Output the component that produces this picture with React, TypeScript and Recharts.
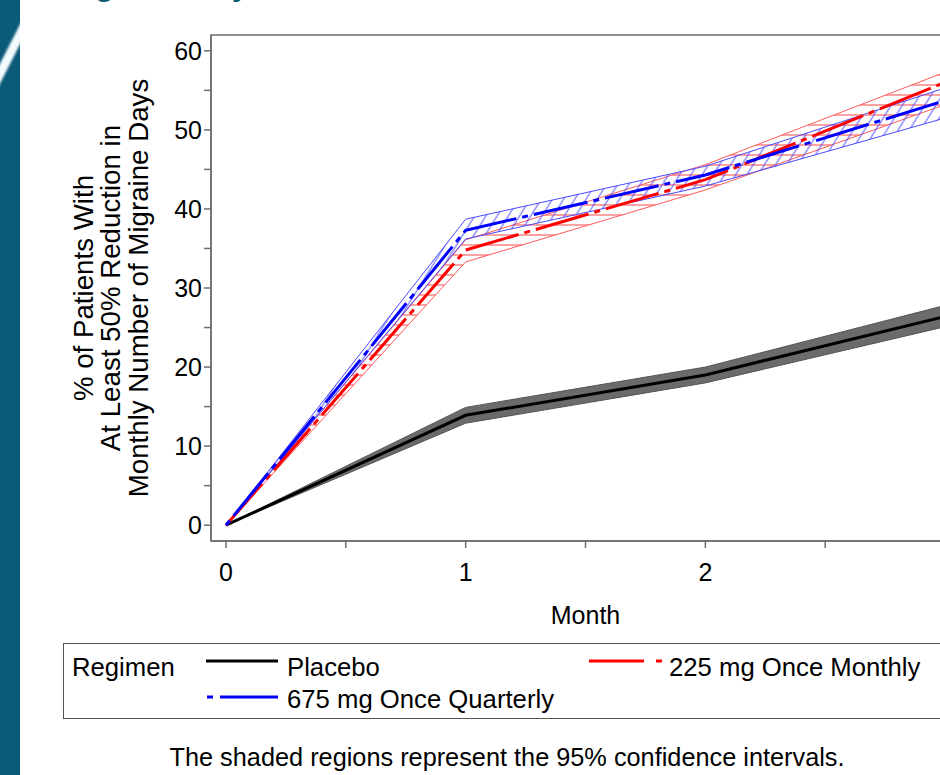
import React from "react";
import {
  ComposedChart,
  Area,
  Line,
  XAxis,
  YAxis,
  ReferenceArea,
} from "recharts";

// months on the x axis (month 3 sits just past the right edge of the slide crop)
const months = [0, 1, 2, 3];

// % of patients with >= 50% reduction
const placebo = [0, 13.9, 19.0, 26.4];
const placeboLow = [0, 12.9, 18.0, 25.1];
const placeboHigh = [0, 14.9, 20.0, 27.8];

const monthly225 = [0, 34.8, 43.7, 56.0];
const monthly225Low = [0, 33.3, 42.4, 53.2];
const monthly225High = [0, 36.1, 45.6, 57.3];

const quarterly675 = [0, 37.3, 44.3, 53.7];
const quarterly675Low = [0, 36.2, 42.9, 51.5];
const quarterly675High = [0, 38.7, 45.4, 55.3];

const xTicks = [0, 0.5, 1, 1.5, 2, 2.5, 3];
const xLabels = [0, 1, 2]; // month 3 label falls outside the crop
const yTicks = [0, 5, 10, 15, 20, 25, 30, 35, 40, 45, 50, 55, 60];

const rows = months.map((m, i) => ({
  month: m,
  placebo: placebo[i],
  placeboCI: [placeboLow[i], placeboHigh[i]],
  m225: monthly225[i],
  m225CI: [monthly225Low[i], monthly225High[i]],
  q675: quarterly675[i],
  q675CI: [quarterly675Low[i], quarterly675High[i]],
}));

const FONT = "'Liberation Sans', Arial, sans-serif";
const AXIS = "#6e6e6e";
const TEAL = "#0b5a78";

const YLabel = (props: any) => {
  const vb = props.viewBox || {};
  const cy = vb.height ? vb.y + vb.height / 2 : 288;
  const lines = [
    { x: 83, t: "% of Patients With" },
    { x: 110, t: "At Least 50% Reduction in" },
    { x: 138, t: "Monthly Number of Migraine Days" },
  ];
  return (
    <g>
      {lines.map((l) => (
        <text
          key={l.t}
          x={l.x}
          y={cy}
          transform={`rotate(-90 ${l.x} ${cy})`}
          textAnchor="middle"
          dominantBaseline="central"
          fontSize={27.7}
          fontFamily={FONT}
          fill="#000"
        >
          {l.t}
        </text>
      ))}
    </g>
  );
};

export default function App() {
  return (
    <div
      style={{
        position: "absolute",
        left: 0,
        top: 0,
        width: 940,
        height: 775,
        overflow: "hidden",
        background: "#fff",
        fontFamily: FONT,
      }}
    >
      {/* slide decoration: teal band on the left */}
      <div
        style={{
          position: "absolute",
          left: 0,
          top: 0,
          width: 20,
          height: 775,
          background: TEAL,
          overflow: "hidden",
        }}
      >
        <div
          style={{
            position: "absolute",
            left: 6,
            top: 8,
            width: 9,
            height: 90,
            background: "#f4fbff",
            transform: "rotate(27deg)",
            filter: "blur(1px)",
          }}
        />
      </div>

      {/* slide title, cut off by the crop: only descenders peek in */}
      <div
        style={{
          position: "absolute",
          left: 62,
          top: -28.7,
          lineHeight: "30px",
          fontSize: 30,
          fontWeight: 700,
          color: TEAL,
          whiteSpace: "nowrap",
        }}
      >
        Migraine Days
      </div>

      <div style={{ position: "absolute", left: 0, top: 0 }}>
        <ComposedChart
          width={1000}
          height={775}
          data={rows}
          margin={{ top: 35, right: 40, bottom: 144, left: 0 }}
        >
          <defs>
            <pattern id="redHatch" patternUnits="userSpaceOnUse" width="10" height="10">
              <line x1="0" y1="5" x2="10" y2="5" stroke="#ff3030" strokeWidth="1" strokeOpacity="0.9" />
            </pattern>
            <pattern
              id="blueHatch"
              patternUnits="userSpaceOnUse"
              width="9.5"
              height="10"
              patternTransform="rotate(32)"
            >
              <line x1="4" y1="0" x2="4" y2="10" stroke="#3a3aff" strokeWidth="1" strokeOpacity="0.85" />
            </pattern>
          </defs>

          <XAxis
            dataKey="month"
            type="number"
            domain={[-0.0625, 3.0625]}
            allowDataOverflow
            ticks={xTicks}
            tickFormatter={(v: number) => (xLabels.includes(v) ? String(v) : "")}
            height={90}
            tickSize={7}
            tickMargin={15}
            stroke={AXIS}
            strokeWidth={1.5}
            tick={{ fill: "#000", fontSize: 25, fontFamily: FONT }}
            label={{
              value: "Month",
              position: "insideBottom",
              offset: 7,
              fill: "#000",
              fontSize: 25,
              fontFamily: FONT,
            }}
          />
          <YAxis
            type="number"
            domain={[-2, 62]}
            allowDataOverflow
            ticks={yTicks}
            tickFormatter={(v: number) => (v % 10 === 0 ? String(v) : "")}
            width={211}
            tickSize={7}
            stroke={AXIS}
            strokeWidth={1.5}
            tick={{ fill: "#000", fontSize: 25, fontFamily: FONT }}
            label={<YLabel />}
          />

          <ReferenceArea
            x1={-0.0625}
            x2={3.0625}
            y1={-2}
            y2={62}
            fill="none"
            stroke={AXIS}
            strokeWidth={1.5}
          />

          <Area
            type="linear"
            dataKey="placeboCI"
            fill="#6b6b6b"
            fillOpacity={1}
            stroke="#555"
            strokeWidth={1}
            isAnimationActive={false}
            activeDot={false}
          />
          <Line
            type="linear"
            dataKey="placebo"
            stroke="#000"
            strokeWidth={3}
            dot={false}
            activeDot={false}
            isAnimationActive={false}
          />
          <Area
            type="linear"
            dataKey="m225CI"
            fill="url(#redHatch)"
            fillOpacity={1}
            stroke="#ff5a5a"
            strokeWidth={1}
            isAnimationActive={false}
            activeDot={false}
          />
          <Area
            type="linear"
            dataKey="q675CI"
            fill="url(#blueHatch)"
            fillOpacity={1}
            stroke="#4a4aff"
            strokeWidth={1}
            isAnimationActive={false}
            activeDot={false}
          />
          <Line
            type="linear"
            dataKey="m225"
            stroke="#ff0000"
            strokeWidth={3}
            strokeDasharray="55 6 6 6"
            dot={false}
            activeDot={false}
            isAnimationActive={false}
          />
          <Line
            type="linear"
            dataKey="q675"
            stroke="#0000ff"
            strokeWidth={3}
            strokeDasharray="6 6 55 6"
            dot={false}
            activeDot={false}
            isAnimationActive={false}
          />
        </ComposedChart>
      </div>

      {/* legend box */}
      <div
        style={{
          position: "absolute",
          left: 63,
          top: 643,
          width: 900,
          height: 76,
          border: "1.5px solid #555",
          boxSizing: "border-box",
          fontSize: 25.7,
          color: "#000",
        }}
      >
        <svg
          width={900}
          height={76}
          style={{ position: "absolute", left: -1.5, top: -1.5 }}
        >
          <line x1={143} y1={18} x2={215} y2={18} stroke="#000" strokeWidth={3} />
          <line x1={526} y1={18} x2={581} y2={18} stroke="#ff0000" strokeWidth={3} />
          <line x1={593} y1={18} x2={599} y2={18} stroke="#ff0000" strokeWidth={3} />
          <line x1={144} y1={54} x2={150} y2={54} stroke="#0000ff" strokeWidth={3} />
          <line x1={157} y1={54} x2={215} y2={54} stroke="#0000ff" strokeWidth={3} />
        </svg>
        <div style={{ position: "absolute", left: 8, top: 8, lineHeight: "30px" }}>Regimen</div>
        <div style={{ position: "absolute", left: 223, top: 8, lineHeight: "30px" }}>Placebo</div>
        <div style={{ position: "absolute", left: 605, top: 8, lineHeight: "30px" }}>
          225 mg Once Monthly
        </div>
        <div style={{ position: "absolute", left: 223, top: 40, lineHeight: "30px" }}>
          675 mg Once Quarterly
        </div>
      </div>

      <div
        style={{
          position: "absolute",
          left: 0,
          top: 742,
          width: 1014,
          textAlign: "center",
          fontSize: 25.3,
          lineHeight: "30px",
          color: "#000",
        }}
      >
        The shaded regions represent the 95% confidence intervals.
      </div>
    </div>
  );
}
